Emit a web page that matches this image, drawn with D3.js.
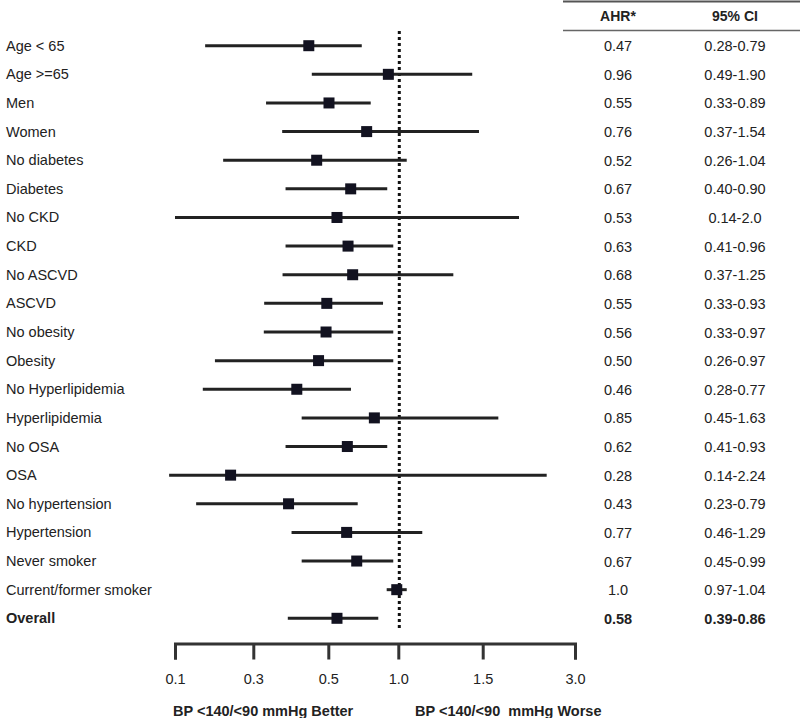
<!DOCTYPE html>
<html>
<head>
<meta charset="utf-8">
<script src="https://cdn.jsdelivr.net/npm/d3@7"></script>
<style>
  html, body { margin: 0; padding: 0; background: #fff; }
  svg { display: block; }
  text { font-family: "Liberation Sans", Arial, Helvetica, sans-serif; fill: #222; }
</style>
</head>
<body>
<svg id="chart" width="800" height="718"></svg>
<script>
// ---------- data ----------
const categories = [
  "Age < 65", "Age >=65", "Men", "Women", "No diabetes", "Diabetes",
  "No CKD", "CKD", "No ASCVD", "ASCVD", "No obesity", "Obesity",
  "No Hyperlipidemia", "Hyperlipidemia", "No OSA", "OSA",
  "No hypertension", "Hypertension", "Never smoker", "Current/former smoker",
  "Overall"
];
// table text (as printed)
const ahrText = ["0.47","0.96","0.55","0.76","0.52","0.67","0.53","0.63","0.68","0.55",
  "0.56","0.50","0.46","0.85","0.62","0.28","0.43","0.77","0.67","1.0","0.58"];
const ciText = ["0.28-0.79","0.49-1.90","0.33-0.89","0.37-1.54","0.26-1.04","0.40-0.90",
  "0.14-2.0","0.41-0.96","0.37-1.25","0.33-0.93","0.33-0.97","0.26-0.97","0.28-0.77",
  "0.45-1.63","0.41-0.93","0.14-2.24","0.23-0.79","0.46-1.29","0.45-0.99","0.97-1.04","0.39-0.86"];
// plotted positions, in axis units
const plotEst = [0.448,0.929,0.505,0.774,0.469,0.660,0.562,0.641,0.674,0.496,
  0.494,0.474,0.416,0.829,0.636,0.242,0.394,0.631,0.703,0.989,0.562];
const plotLo = [0.177,0.456,0.334,0.377,0.223,0.386,0.100,0.386,0.378,0.329,
  0.328,0.202,0.171,0.429,0.386,0.085,0.154,0.402,0.429,0.917,0.392];
const plotHi = [0.739,1.438,0.803,1.478,1.050,0.921,2.090,0.964,1.326,0.891,
  0.964,0.964,0.662,1.754,0.921,2.540,0.710,1.142,0.964,1.050,0.857];
const tickValues = [0.1, 0.3, 0.5, 1.0, 1.5, 3.0];
const tickLabels = ["0.1", "0.3", "0.5", "1.0", "1.5", "3.0"];
const headers = ["AHR*", "95% CI"];
const axisNotes = ["BP <140/<90 mmHg Better", "BP <140/<90  mmHg Worse"];
const boldRows = ["Overall"];

// ---------- layout ----------
const svg = d3.select("#chart");
const x = d3.scaleLinear().domain(tickValues).range([175, 253.3, 328.3, 398.3, 482.7, 575]);
const y = d3.scalePoint().domain(categories).range([45.7, 618.3]);
const colAHR = 618, colCI = 735;

const rows = categories.map((c, i) => ({
  cat: c, est: plotEst[i], lo: plotLo[i], hi: plotHi[i], ahr: ahrText[i], ci: ciText[i],
  bold: boldRows.includes(c)
}));

// reference line at 1.0 (dotted)
svg.append("line")
  .attr("x1", x(1.0) + 1).attr("x2", x(1.0) + 1)
  .attr("y1", 31).attr("y2", 628)
  .attr("stroke", "#111").attr("stroke-width", 3)
  .attr("stroke-dasharray", "3,3");

// CI lines
svg.append("g").selectAll("line").data(rows).join("line")
  .attr("x1", d => x(d.lo)).attr("x2", d => x(d.hi))
  .attr("y1", d => y(d.cat)).attr("y2", d => y(d.cat))
  .attr("stroke", "#222").attr("stroke-width", 3);

// squares
const sq = 11;
svg.append("g").selectAll("rect").data(rows).join("rect")
  .attr("x", d => x(d.est) - sq / 2).attr("y", d => y(d.cat) - sq / 2)
  .attr("width", sq).attr("height", sq)
  .attr("fill", "#121220");

// left labels
svg.append("g").selectAll("text").data(rows).join("text")
  .attr("x", 6).attr("y", d => y(d.cat) + 5)
  .style("font-size", "14.5px")
  .style("font-weight", d => d.bold ? "bold" : "normal")
  .text(d => d.cat);

// table header
svg.append("line").attr("x1", 563).attr("x2", 800).attr("y1", 1.5).attr("y2", 1.5)
  .attr("stroke", "#555").attr("stroke-width", 2);
svg.append("line").attr("x1", 563).attr("x2", 800).attr("y1", 30.5).attr("y2", 30.5)
  .attr("stroke", "#666").attr("stroke-width", 1.5);
svg.append("text").attr("x", colAHR).attr("y", 21).attr("text-anchor", "middle")
  .style("font-size", "14px").style("font-weight", "bold").text(headers[0]);
svg.append("text").attr("x", colCI).attr("y", 21).attr("text-anchor", "middle")
  .style("font-size", "14px").style("font-weight", "bold").text(headers[1]);

// table values
svg.append("g").selectAll("text").data(rows).join("text")
  .attr("x", colAHR).attr("y", d => y(d.cat) + 5.5).attr("text-anchor", "middle")
  .style("font-size", "14.5px").style("font-weight", d => d.bold ? "bold" : "normal")
  .text(d => d.ahr);
svg.append("g").selectAll("text").data(rows).join("text")
  .attr("x", colCI).attr("y", d => y(d.cat) + 5.5).attr("text-anchor", "middle")
  .style("font-size", "14.5px").style("font-weight", d => d.bold ? "bold" : "normal")
  .text(d => d.ci);

// x axis
const axis = d3.axisBottom(x)
  .tickValues(tickValues)
  .tickFormat((d, i) => tickLabels[i])
  .tickSizeInner(16).tickSizeOuter(16).tickPadding(14);
const gAxis = svg.append("g").attr("transform", "translate(0,643.5)").call(axis);
gAxis.select(".domain").attr("stroke", "#333").attr("stroke-width", 3);
gAxis.selectAll(".tick line").attr("stroke", "#333").attr("stroke-width", 3);
gAxis.selectAll(".tick text").style("font-size", "14.5px")
  .style("font-family", "'Liberation Sans', Arial, sans-serif").attr("fill", "#222");

// axis notes
svg.append("text").attr("x", 173).attr("y", 715.5)
  .style("font-size", "14.5px").style("font-weight", "bold").text(axisNotes[0]);
svg.append("text").attr("x", 415).attr("y", 715.5)
  .style("font-size", "14.5px").style("font-weight", "bold")
  .style("white-space", "pre").attr("xml:space", "preserve").text(axisNotes[1]);
</script>
</body>
</html>
